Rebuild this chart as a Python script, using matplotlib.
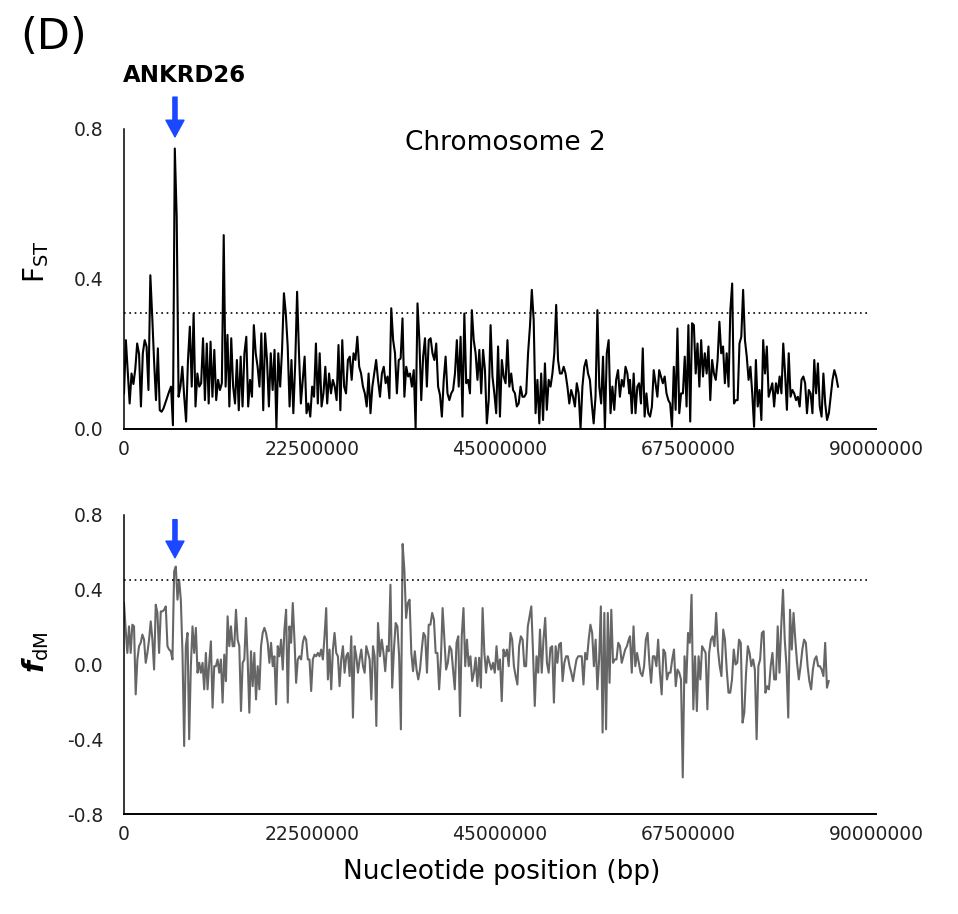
import matplotlib
matplotlib.use("Agg")
import matplotlib.pyplot as plt
import numpy as np

# window FST along chromosome 2, in three stretches
fst_a = [0.095, 0.237, 0.15, 0.068, 0.148, 0.12, 0.16, 0.228, 0.2, 0.06, 0.202, 0.237, 0.22, 0.104, 0.41, 0.3,
         0.18, 0.077, 0.215, 0.05, 0.046, 0.055, 0.07, 0.085, 0.10, 0.113,
         0.01, 0.748, 0.566, 0.086, 0.113, 0.166, 0.086, 0.02, 0.184, 0.273, 0.113, 0.308, 0.06, 0.148, 0.113,
         0.122, 0.242, 0.077, 0.228, 0.068, 0.233, 0.086, 0.211, 0.077, 0.131, 0.104, 0.122, 0.517, 0.113,
         0.251, 0.06, 0.242, 0.113, 0.068, 0.184, 0.05, 0.193, 0.06, 0.202, 0.246, 0.06, 0.131, 0.086, 0.277,
         0.202, 0.166, 0.113, 0.255, 0.05, 0.255, 0.184, 0.06, 0.202, 0.104, 0.211, 0.002, 0.202, 0.113, 0.211,
         0.362, 0.308, 0.22, 0.06, 0.184, 0.042, 0.175, 0.366, 0.202, 0.068, 0.131, 0.193, 0.042, 0.068, 0.033,
         0.113, 0.086, 0.228, 0.068, 0.202, 0.06, 0.095, 0.166, 0.068, 0.148, 0.095, 0.131, 0.113, 0.077, 0.224,
         0.05, 0.237, 0.113, 0.095, 0.184, 0.193, 0.131, 0.202, 0.184, 0.246, 0.166, 0.148, 0.113, 0.095, 0.06,
         0.148, 0.042, 0.113, 0.148, 0.184, 0.131]
fst_b = [0.086, 0.148, 0.166, 0.122, 0.14, 0.082, 0.322, 0.237, 0.202, 0.095, 0.184, 0.188, 0.295, 0.086, 0.166,
         0.14, 0.148, 0.113, 0.157, 0.002, 0.335, 0.237, 0.077, 0.193, 0.242, 0.113, 0.237, 0.242, 0.202, 0.184,
         0.228, 0.113, 0.091, 0.033, 0.131, 0.193, 0.095, 0.077, 0.095, 0.104, 0.148, 0.237, 0.113, 0.246, 0.033,
         0.308, 0.122, 0.131, 0.095, 0.317, 0.237, 0.202, 0.131, 0.211, 0.095, 0.211, 0.157, 0.015, 0.077, 0.277,
         0.14, 0.095, 0.042, 0.22, 0.033, 0.184, 0.14, 0.122, 0.237, 0.113, 0.148, 0.104, 0.095, 0.06, 0.068,
         0.113, 0.086, 0.086, 0.095, 0.202, 0.273, 0.371, 0.291, 0.042, 0.131, 0.015, 0.148, 0.024, 0.175, 0.051,
         0.131, 0.113, 0.148, 0.202, 0.331, 0.184, 0.148, 0.148, 0.166, 0.148, 0.113, 0.068, 0.104, 0.086, 0.06,
         0.122, 0.095, 0.0, 0.113, 0.166, 0.184, 0.148, 0.131, 0.068, 0.015, 0.086, 0.317, 0.113, 0.068, 0.193,
         0.0, 0.202, 0.237, 0.042, 0.113, 0.051, 0.131, 0.157, 0.086, 0.131, 0.113, 0.166, 0.148, 0.095]
fst_c = [0.131, 0.042, 0.148, 0.042, 0.113, 0.122, 0.068, 0.215, 0.033, 0.095, 0.042, 0.033, 0.06, 0.157, 0.122,
         0.086, 0.157, 0.14, 0.122, 0.14, 0.095, 0.077, 0.068, 0.006, 0.166, 0.051, 0.268, 0.042, 0.095, 0.095,
         0.193, 0.06, 0.277, 0.02, 0.282, 0.277, 0.148, 0.228, 0.113, 0.237, 0.14, 0.202, 0.148, 0.22, 0.077,
         0.184, 0.148, 0.131, 0.184, 0.286, 0.202, 0.22, 0.122, 0.202, 0.113, 0.317, 0.388, 0.068, 0.077, 0.077,
         0.228, 0.246, 0.371, 0.237, 0.193, 0.131, 0.166, 0.095, 0.006, 0.184, 0.06, 0.104, 0.024, 0.237, 0.148,
         0.22, 0.086, 0.104, 0.122, 0.06, 0.122, 0.095, 0.14, 0.095, 0.228, 0.148, 0.051, 0.202, 0.086, 0.104,
         0.095, 0.077, 0.086, 0.06, 0.131, 0.14, 0.122, 0.042, 0.104, 0.095, 0.042, 0.184, 0.095, 0.175, 0.06,
         0.033, 0.148, 0.068, 0.024, 0.042, 0.086, 0.131, 0.157, 0.14, 0.113]

# window fdM along chromosome 2, same three stretches
fdm_a = [0.329, 0.187, 0.062, 0.204, 0.062, 0.213, 0.204, -0.16, 0.027, 0.098, 0.116, 0.16, 0.133, 0.009, 0.062,
         0.133, 0.231, 0.133, -0.027, 0.32, 0.276, 0.062, 0.284, 0.284, 0.293, 0.311, 0.098, 0.08, 0.071, 0.027,
         0.498, 0.524, 0.347, 0.453, 0.347, 0.062, -0.436, 0.098, 0.169, -0.4, -0.009, 0.204, 0.062, 0.196,
         -0.044, 0.009, -0.044, 0.009, -0.133, 0.062, -0.133, 0.009, 0.124, -0.231, -0.009, -0.009, 0.027,
         -0.044, 0.027, -0.204, 0.053, -0.089, 0.258, 0.098, 0.204, 0.098, 0.098, 0.293, 0.133, 0.098, -0.249,
         0.009, 0.027, 0.249, 0.027, -0.258, 0.071, -0.116, 0.062, -0.187, -0.009, -0.133, 0.098, 0.169, 0.196,
         0.169, 0.116, 0.009, 0.116, -0.009, 0.044, -0.213, 0.098, 0.044, 0.133, -0.027, 0.187, 0.293, -0.204,
         0.204, 0.116, 0.329, 0.133, -0.098, 0.027, 0.044, 0.027, 0.116, 0.151, 0.133, 0.027, 0.027, -0.142,
         0.027, 0.053, 0.044, 0.062, 0.044, 0.08, 0.027, 0.151, 0.302, -0.08, 0.08, -0.133, 0.08, 0.169, 0.062,
         0.044, -0.116, 0.027, 0.098, -0.044, 0.044, 0.062, -0.062, 0.151, -0.284, 0.098, 0.044, -0.044, 0.027,
         0.08, -0.009, -0.044, 0.098, 0.062, 0.027, -0.187, 0.098, 0.044, -0.329, 0.222]
fdm_b = [0.044, 0.133, 0.062, -0.036, 0.098, 0.071, 0.427, -0.124, 0.08, 0.222, 0.204, 0.044, -0.347, 0.645,
         0.507, 0.249, 0.329, 0.347, 0.062, -0.036, 0.071, -0.027, -0.08, -0.027, 0.08, 0.169, 0.151, -0.044,
         0.213, 0.213, 0.276, 0.24, 0.062, 0.062, -0.133, 0.027, 0.302, 0.133, -0.027, 0.009, 0.098, 0.08,
         -0.027, -0.133, 0.116, 0.151, -0.276, 0.151, 0.302, -0.009, 0.133, -0.009, 0.044, -0.089, -0.044,
         0.036, -0.116, 0.036, -0.124, 0.302, 0.062, -0.044, 0.044, 0.009, -0.027, 0.009, -0.044, 0.098,
         -0.027, 0.027, -0.196, 0.08, 0.044, 0.08, -0.009, 0.169, 0.133, -0.009, -0.062, -0.107, 0.098, 0.151,
         0.133, -0.009, -0.009, 0.204, 0.258, 0.311, 0.062, -0.222, 0.044, -0.044, 0.187, -0.044, 0.133, 0.249,
         0.009, -0.044, 0.089, 0.098, -0.204, 0.098, 0.009, 0.107, 0.116, -0.089, 0.009, 0.044, 0.044, -0.009,
         -0.044, -0.089, -0.027, 0.027, 0.044, 0.044, 0.044, -0.107, 0.062, 0.027, 0.133, 0.213, 0.169, -0.009,
         0.133, -0.133, 0.027, 0.311, -0.364, 0.276, -0.347, 0.276, -0.098, 0.293, 0.009, 0.027, 0.027, 0.116,
         0.098, 0.009, 0.044, 0.08, 0.098, 0.133]
fdm_c = [0.151, -0.044, 0.204, -0.009, 0.062, 0.009, -0.044, -0.062, -0.009, 0.133, 0.169, 0.009, -0.098, 0.044,
         0.044, -0.009, 0.133, -0.044, -0.16, 0.08, 0.062, -0.08, -0.044, -0.044, 0.027, 0.08, -0.116, -0.027,
         -0.044, -0.08, -0.604, 0.044, -0.098, 0.169, 0.116, 0.373, -0.24, 0.044, -0.249, 0.044, -0.08, 0.098,
         0.08, 0.062, -0.24, 0.062, 0.133, 0.151, 0.098, 0.276, 0.08, -0.009, -0.062, 0.187, 0.133, -0.027,
         -0.151, -0.151, -0.08, 0.08, 0.0, 0.009, 0.133, 0.116, -0.311, -0.258, -0.044, 0.098, 0.062, -0.009,
         0.027, -0.027, -0.4, -0.009, 0.027, 0.169, 0.178, -0.151, -0.116, -0.133, -0.009, 0.062, -0.08, -0.08,
         0.204, -0.044, 0.204, 0.4, 0.133, -0.009, -0.284, 0.293, 0.08, 0.276, 0.133, 0.009, -0.08, -0.009,
         0.08, 0.133, 0.116, -0.009, -0.089, -0.133, -0.027, 0.027, 0.044, -0.009, -0.009, -0.027, -0.062,
         0.116, -0.124, -0.089]

# first and last window (bp) of each stretch
fst_spans = [(0, 30400000), (30640000, 60470000), (60560000, 85450000)]
fdm_spans = [(0, 30400000), (30640000, 60400000), (60560000, 84340000)]

fst_cutoff = 0.31
fdm_cutoff = 0.45
gene_pos = 6100000   # ANKRD26

x_ticks = [0, 22500000, 45000000, 67500000, 90000000]
x_labels = ["0", "22500000", "45000000", "67500000", "90000000"]


def stitch(parts, spans):
    pos = []
    for vals, (start, end) in zip(parts, spans):
        pos.extend(np.linspace(start, end, len(vals)))
    return np.array(pos), np.concatenate(parts)


fst_pos, fst = stitch([fst_a, fst_b, fst_c], fst_spans)
fdm_pos, fdm = stitch([fdm_a, fdm_b, fdm_c], fdm_spans)

fig = plt.figure(figsize=(9.58, 9.14), dpi=100)
ax1 = fig.add_axes([124 / 958, 485 / 914, 752 / 958, 300 / 914])
ax2 = fig.add_axes([124 / 958, 100 / 914, 752 / 958, 299 / 914])

ax1.plot(fst_pos, fst, color="black", lw=1.5)
ax2.plot(fdm_pos, fdm, color="#666666", lw=1.5)

ax1.axhline(fst_cutoff, xmin=0, xmax=0.99, color="black", ls=(0, (1, 2.2)), lw=1.2)
ax2.axhline(fdm_cutoff, xmin=0, xmax=0.99, color="black", ls=(0, (1, 2.2)), lw=1.2)

ax1.set_ylim(0, 0.8)
ax1.set_yticks([0.0, 0.4, 0.8])
ax1.set_yticklabels(["0.0", "0.4", "0.8"])
ax2.set_ylim(-0.8, 0.8)
ax2.set_yticks([-0.8, -0.4, 0.0, 0.4, 0.8])
ax2.set_yticklabels(["-0.8", "-0.4", "0.0", "0.4", "0.8"])

for ax in (ax1, ax2):
    ax.set_xlim(0, 90000000)
    ax.set_xticks(x_ticks)
    ax.set_xticklabels(x_labels)
    ax.spines["top"].set_visible(False)
    ax.spines["right"].set_visible(False)
    ax.spines["left"].set_linewidth(1.1)
    ax.spines["bottom"].set_linewidth(1.4)
    ax.tick_params(axis="x", length=0, pad=8, labelsize=13.5, colors="#222222")
    ax.tick_params(axis="y", length=0, pad=15, labelsize=13.5, colors="#222222")

# blue arrows marking ANKRD26
arrow = dict(facecolor="#1a47ff", edgecolor="#1a47ff", width=3, headwidth=13, headlength=12, shrink=0)
ax1.annotate("", xy=(gene_pos, 0.779), xytext=(gene_pos, 0.885), arrowprops=arrow, annotation_clip=False)
ax2.annotate("", xy=(gene_pos, 0.571), xytext=(gene_pos, 0.775), arrowprops=arrow, annotation_clip=False)

fig.text(184 / 958, 1 - 76 / 914, "ANKRD26", fontsize=16.5, fontweight="bold", ha="center", va="center")
fig.text(20 / 958, 1 - 37 / 914, "(D)", fontsize=31, ha="left", va="center")
fig.text(505 / 958, 1 - 143 / 914, "Chromosome 2", fontsize=19, ha="center", va="center")
fig.text(502 / 958, 1 - 872 / 914, "Nucleotide position (bp)", fontsize=19, ha="center", va="center")

fig.text(36 / 958, 1 - 262 / 914, r"F$_{\mathregular{ST}}$", fontsize=20, rotation=90, ha="center", va="center")
fig.text(36 / 958, 1 - 652 / 914, r"$\mathbfit{f}_{\mathregular{dM}}$", fontsize=20, rotation=90,
         ha="center", va="center")

plt.savefig("out.png", dpi=100)
